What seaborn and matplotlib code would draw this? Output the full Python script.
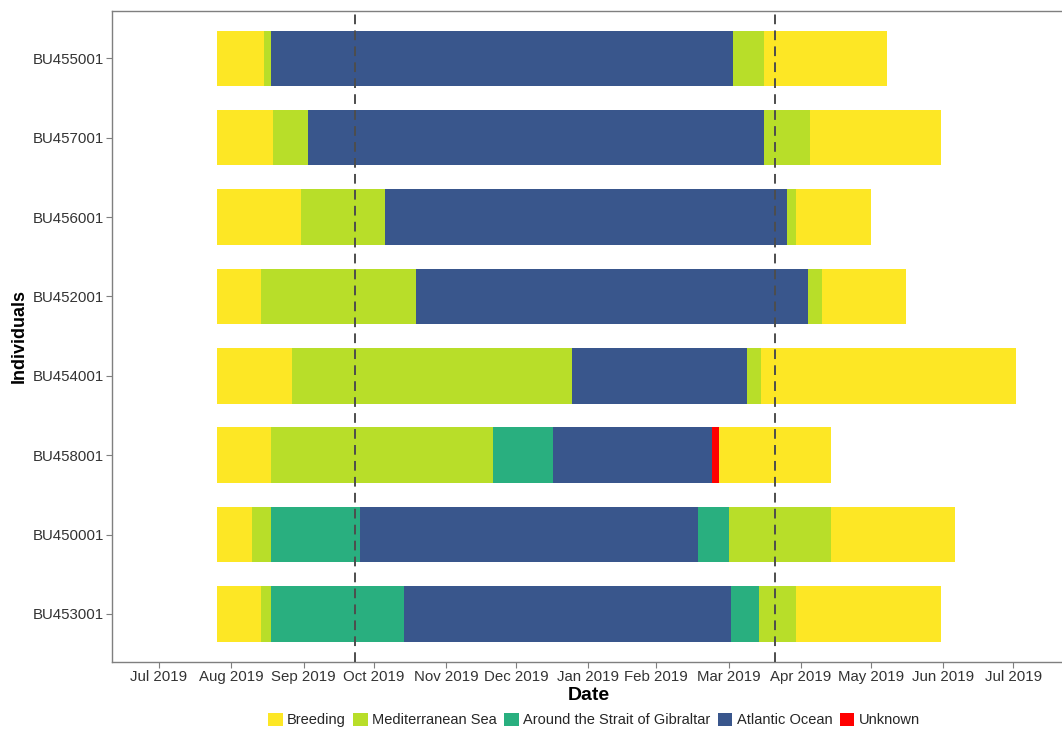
import matplotlib
matplotlib.use("Agg")
import matplotlib.pyplot as plt
import matplotlib.dates as mdates
from matplotlib.patches import Patch
import pandas as pd
import seaborn as sns

# Individuals, top to bottom
individuals = ["BU455001", "BU457001", "BU456001", "BU452001",
               "BU454001", "BU458001", "BU450001", "BU453001"]

# Phase names and colours
phase_names = ["Breeding", "Mediterranean Sea", "Around the Strait of Gibraltar",
               "Atlantic Ocean", "Unknown"]
phase_colors = ["#FDE725", "#B8DE29", "#29AF7F", "#39568C", "#FF0000"]

# For each individual: the sequence of phases and the dates that bound them
bu455001_phases = ["Breeding", "Mediterranean Sea", "Atlantic Ocean", "Mediterranean Sea", "Breeding"]
bu455001_dates = ["2019-07-26", "2019-08-15", "2019-08-18", "2020-03-03", "2020-03-16", "2020-05-08"]

bu457001_phases = ["Breeding", "Mediterranean Sea", "Atlantic Ocean", "Mediterranean Sea", "Breeding"]
bu457001_dates = ["2019-07-26", "2019-08-19", "2019-09-03", "2020-03-16", "2020-04-05", "2020-05-31"]

bu456001_phases = ["Breeding", "Mediterranean Sea", "Atlantic Ocean", "Mediterranean Sea", "Breeding"]
bu456001_dates = ["2019-07-26", "2019-08-31", "2019-10-06", "2020-03-26", "2020-03-30", "2020-05-01"]

bu452001_phases = ["Breeding", "Mediterranean Sea", "Atlantic Ocean", "Mediterranean Sea", "Breeding"]
bu452001_dates = ["2019-07-26", "2019-08-14", "2019-10-19", "2020-04-04", "2020-04-10", "2020-05-16"]

bu454001_phases = ["Breeding", "Mediterranean Sea", "Atlantic Ocean", "Mediterranean Sea", "Breeding"]
bu454001_dates = ["2019-07-26", "2019-08-27", "2019-12-25", "2020-03-09", "2020-03-15", "2020-07-02"]

bu458001_phases = ["Breeding", "Mediterranean Sea", "Around the Strait of Gibraltar",
                   "Atlantic Ocean", "Unknown", "Breeding"]
bu458001_dates = ["2019-07-26", "2019-08-18", "2019-11-21", "2019-12-17", "2020-02-23",
                  "2020-02-26", "2020-04-14"]

bu450001_phases = ["Breeding", "Mediterranean Sea", "Around the Strait of Gibraltar",
                   "Atlantic Ocean", "Around the Strait of Gibraltar", "Mediterranean Sea", "Breeding"]
bu450001_dates = ["2019-07-26", "2019-08-10", "2019-08-18", "2019-09-25", "2020-02-17",
                  "2020-03-01", "2020-04-14", "2020-06-06"]

bu453001_phases = ["Breeding", "Mediterranean Sea", "Around the Strait of Gibraltar",
                   "Atlantic Ocean", "Around the Strait of Gibraltar", "Mediterranean Sea", "Breeding"]
bu453001_dates = ["2019-07-26", "2019-08-14", "2019-08-18", "2019-10-14", "2020-03-02",
                  "2020-03-14", "2020-03-30", "2020-05-31"]

# Equinoxes marked with dashed lines
equinox_dates = ["2019-09-23", "2020-03-21"]

# Date axis breaks and their labels
tick_dates = ["2019-07-01", "2019-08-01", "2019-09-01", "2019-10-01", "2019-11-01",
              "2019-12-01", "2020-01-01", "2020-01-30", "2020-03-01", "2020-04-01",
              "2020-05-01", "2020-06-01", "2020-07-01"]
tick_labels = ["Jul 2019", "Aug 2019", "Sep 2019", "Oct 2019", "Nov 2019", "Dec 2019",
               "Jan 2019", "Feb 2019", "Mar 2019", "Apr 2019", "May 2019", "Jun 2019",
               "Jul 2019"]

tracks = {
    "BU455001": (bu455001_phases, bu455001_dates),
    "BU457001": (bu457001_phases, bu457001_dates),
    "BU456001": (bu456001_phases, bu456001_dates),
    "BU452001": (bu452001_phases, bu452001_dates),
    "BU454001": (bu454001_phases, bu454001_dates),
    "BU458001": (bu458001_phases, bu458001_dates),
    "BU450001": (bu450001_phases, bu450001_dates),
    "BU453001": (bu453001_phases, bu453001_dates),
}

# Long table of segments
rows = []
for ind in individuals:
    ph, dts = tracks[ind]
    dts = pd.to_datetime(dts)
    for k, p in enumerate(ph):
        rows.append({"individual": ind, "phase": p, "start": dts[k], "end": dts[k + 1]})
seg = pd.DataFrame(rows)
seg["left"] = mdates.date2num(seg["start"])
seg["span"] = mdates.date2num(seg["end"]) - seg["left"]
seg["ypos"] = seg["individual"].map({n: i for i, n in enumerate(individuals)})

sns.set_theme(style="white")
plt.rcParams["font.family"] = ["Liberation Sans", "DejaVu Sans"]

palette = dict(zip(phase_names, sns.color_palette(phase_colors)))

fig = plt.figure(figsize=(10.62, 7.30), dpi=100)
ax = fig.add_axes([112 / 1062, (730 - 661.5) / 730, (1066 - 112) / 1062, (661.5 - 10.7) / 730])

for _, r in seg.iterrows():
    ax.barh(r["ypos"], r["span"], left=r["left"], height=0.7,
            color=palette[r["phase"]], edgecolor="none", zorder=2)

for d in pd.to_datetime(equinox_dates):
    ax.axvline(mdates.date2num(d), color="#4d4d4d", lw=1.4,
               linestyle=(0, (5, 3.2)), zorder=3)

origin = mdates.date2num(pd.Timestamp("2019-07-01"))
ax.set_xlim(origin - 20.0, origin + 388.5)
ax.set_ylim(len(individuals) - 0.4, -0.6)

ax.set_xticks(mdates.date2num(pd.to_datetime(tick_dates)))
ax.set_xticklabels(tick_labels)
ax.set_yticks(range(len(individuals)))
ax.set_yticklabels(individuals)

ax.tick_params(axis="both", which="major", length=4, width=0.8, color="#7f7f7f",
               labelsize=10.8, labelcolor="#333333", pad=2, direction="out",
               bottom=True, left=True)
for s in ax.spines.values():
    s.set_color("#7f7f7f")
    s.set_linewidth(1.0)

ax.set_xlabel("Date", fontsize=14, fontweight="bold", color="black", labelpad=2)
ax.set_ylabel("Individuals", fontsize=13, fontweight="bold", color="black", labelpad=3)
ax.grid(False)

handles = [Patch(facecolor=palette[p], edgecolor="none") for p in phase_names]
fig.legend(handles, phase_names, loc="center", bbox_to_anchor=(594 / 1062, 10 / 730),
           ncol=5, frameon=False, fontsize=10.5, handlelength=1.0, handleheight=1.0,
           handletextpad=0.3, columnspacing=0.5, borderaxespad=0)

fig.savefig("out.png", dpi=100)
